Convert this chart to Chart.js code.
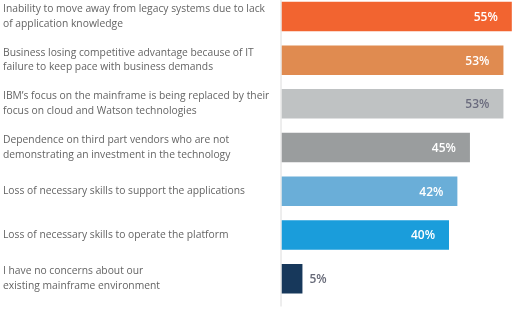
<!DOCTYPE html>
<html>
<head>
<meta charset="utf-8">
<script src="https://cdn.jsdelivr.net/npm/chart.js@4"></script>
<style>
  html, body { margin: 0; padding: 0; background: #ffffff; overflow: hidden; }
  body { width: 516px; height: 323px; position: relative; }
  #wrap { position: absolute; left: 0; top: -20px; width: 516px; height: 343px; }
</style>
</head>
<body>
<div id="wrap"><canvas id="chart"></canvas></div>
<script>
// Concerns about the mainframe environment (share of respondents, %)
const categories = [
  ["Inability to move away from legacy systems due to lack", "of application knowledge"],
  ["Business losing competitive advantage because of IT", "failure to keep pace with business demands"],
  ["IBM\u2019s focus on the mainframe is being replaced by their", "focus on cloud and Watson technologies"],
  ["Dependence on third part vendors who are not", "demonstrating an investment in the technology"],
  "Loss of necessary skills to support the applications",
  "Loss of necessary skills to operate the platform",
  ["I have no concerns about our", "existing mainframe environment"]
];
const values = [55, 53, 53, 45, 42, 40, 5];
const barColors = ["#f26430", "#e08b50", "#bfc2c3", "#9a9d9e", "#6aaed8", "#1a9ddb", "#17385b"];
const valueLabelColors = ["#ffffff", "#ffffff", "#6b6c7e", "#ffffff", "#ffffff", "#ffffff", "#676a78"];

const valueLabels = {
  id: 'valueLabels',
  afterDatasetsDraw(chart) {
    const ctx = chart.ctx;
    const meta = chart.getDatasetMeta(0);
    ctx.save();
    ctx.font = '600 12px "Open Sans"';
    ctx.textBaseline = 'middle';
    meta.data.forEach((bar, i) => {
      const text = values[i] + '%';
      const w = bar.x - bar.base;
      ctx.fillStyle = valueLabelColors[i];
      if (w > 40) {
        ctx.textAlign = 'right';
        ctx.fillText(text, bar.x - 14, bar.y + 1);
      } else {
        ctx.textAlign = 'left';
        ctx.fillText(text, bar.x + 7, bar.y + 1);
      }
    });
    ctx.restore();
  }
};

const axisLine = {
  id: 'axisLine',
  beforeDatasetsDraw(chart) {
    const { ctx, chartArea } = chart;
    ctx.save();
    ctx.strokeStyle = '#dcdcdc';
    ctx.lineWidth = 1;
    ctx.beginPath();
    ctx.moveTo(chartArea.left - 0.5, chartArea.top);
    ctx.lineTo(chartArea.left - 0.5, chartArea.bottom + 6);
    ctx.stroke();
    ctx.restore();
  }
};

new Chart(document.getElementById('chart'), {
  type: 'bar',
  data: {
    labels: categories,
    datasets: [{
      data: values,
      backgroundColor: barColors,
      borderWidth: 0,
      barPercentage: 0.9,
      categoryPercentage: 0.75
    }]
  },
  options: {
    indexAxis: 'y',
    responsive: true,
    maintainAspectRatio: false,
    animation: false,
    layout: { padding: { left: 3, right: 0, top: 0, bottom: 22.5 } },
    plugins: { legend: { display: false }, tooltip: { enabled: false } },
    scales: {
      x: { display: false, min: 0, max: 56 },
      y: {
        grid: { display: false, drawTicks: false },
        border: { display: false },
        ticks: {
          crossAlign: 'far',
          padding: 0,
          color: '#646464',
          font: { family: '"Open Sans"', size: 10.3, lineHeight: 1.42 }
        },
        afterFit(scale) { scale.width = 278.5; }
      }
    }
  },
  plugins: [valueLabels, axisLine]
});
</script>
</body>
</html>
